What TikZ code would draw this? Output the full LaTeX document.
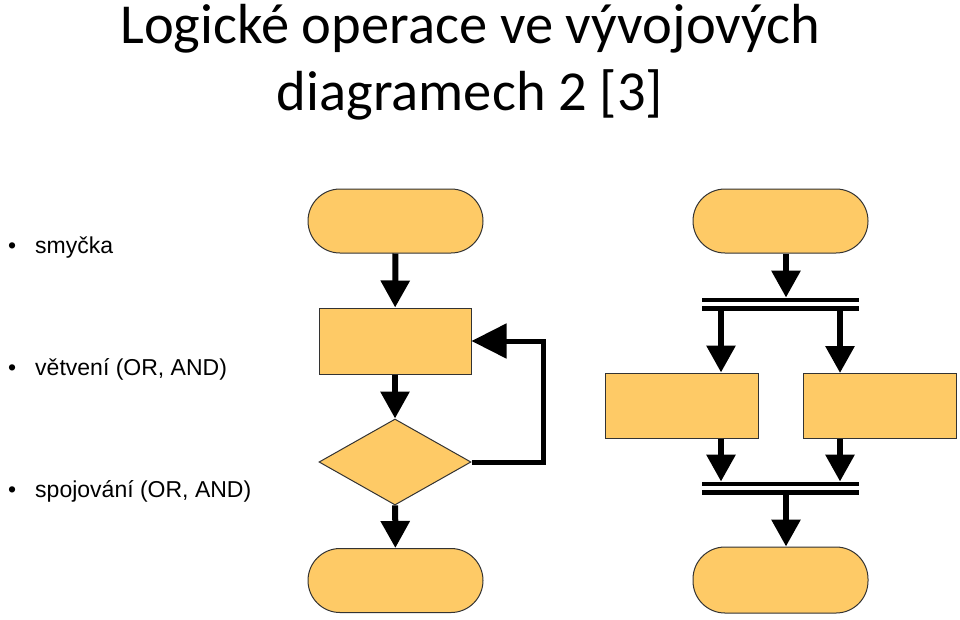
\documentclass[tikz,border=0pt]{standalone}
\usepackage{fontspec}
\setmainfont{Carlito}
\newfontfamily\bulletfont{Liberation Sans}
\usepackage{xcolor}
\usepackage{tikz}
\usetikzlibrary{shapes.geometric, arrows.meta, positioning, calc}

\definecolor{boxfill}{HTML}{FECA66}

\begin{document}
\begin{tikzpicture}[x=1pt, y=-1pt,
  blk/.style={draw=black!80, line width=1pt, fill=boxfill, inner sep=0pt},
  term/.style={blk, rectangle, rounded corners=32pt, minimum width=175pt, minimum height=64pt},
  proc/.style={blk, rectangle, minimum width=152pt, minimum height=66pt},
  cond/.style={blk, diamond, minimum width=152pt, minimum height=86pt},
  barline/.style={fill=black, inner sep=0pt, minimum width=157pt, minimum height=4.5pt},
  flow/.style={line width=6pt, -{Triangle[width=28pt,length=27pt]}},
  back/.style={line width=5pt, -{Triangle[width=34pt,length=35pt]}},
  item/.style={anchor=base west, font=\bulletfont\fontsize{23}{27}\selectfont, inner sep=0pt}]
\useasboundingbox (0,0) rectangle (960,619);

% title
\node[anchor=base, font=\fontsize{56.5}{70}\selectfont] (title1) at (470,43) {Logické operace ve vývojových};
\node[anchor=base, font=\fontsize{56.5}{70}\selectfont] (title2) at (470,110) {diagramech 2 [3]};

% bullets
\node[item] (b1) at (8,253) {•\hspace{19pt}smyčka};
\node[item] (b2) at (8,375) {•\hspace{19pt}větvení (OR, AND)};
\node[item] (b3) at (8,497) {•\hspace{19pt}spojování (OR, AND)};

% loop
\node[term] (start) at (395.5,221) {};
\node[proc] (body) at (395,341) {};
\node[cond] (test) at (395,462) {};
\node[term] (stop) at (395.5,580.5) {};
\draw[flow] (start) -- (body);
\draw[flow] (body) -- (test);
\draw[flow] (test) -- (stop);
\draw[back] (test.east) -- ++(72,0) |- (body.east);

% fork and join
\coordinate (mid) at (786,0);
\coordinate (lft) at (721,0);
\coordinate (rgt) at (840,0);
\node[term] (start2) at (780.5,221) {};
\node[barline] (fork1) at (780.5,300) {};
\node[barline] (fork2) at (780.5,308.5) {};
\node[proc, minimum width=153pt, minimum height=65pt] (left) at (681.5,405.5) {};
\node[proc, minimum width=153pt, minimum height=65pt] (right) at (879.5,406) {};
\node[barline] (join1) at (780.5,484) {};
\node[barline] (join2) at (780.5,492.5) {};
\node[term, minimum height=66pt] (stop2) at (780.5,580) {};
\draw[flow] (start2.south -| mid) -- (fork1.north -| mid);
\draw[flow] (fork2.south -| lft) -- (left.north -| lft);
\draw[flow] (fork2.south -| rgt) -- (right.north -| rgt);
\draw[flow] (left.south -| lft) -- (join1.north -| lft);
\draw[flow] (right.south -| rgt) -- (join1.north -| rgt);
\draw[flow] (join2.south -| mid) -- (stop2.north -| mid);
\end{tikzpicture}
\end{document}
